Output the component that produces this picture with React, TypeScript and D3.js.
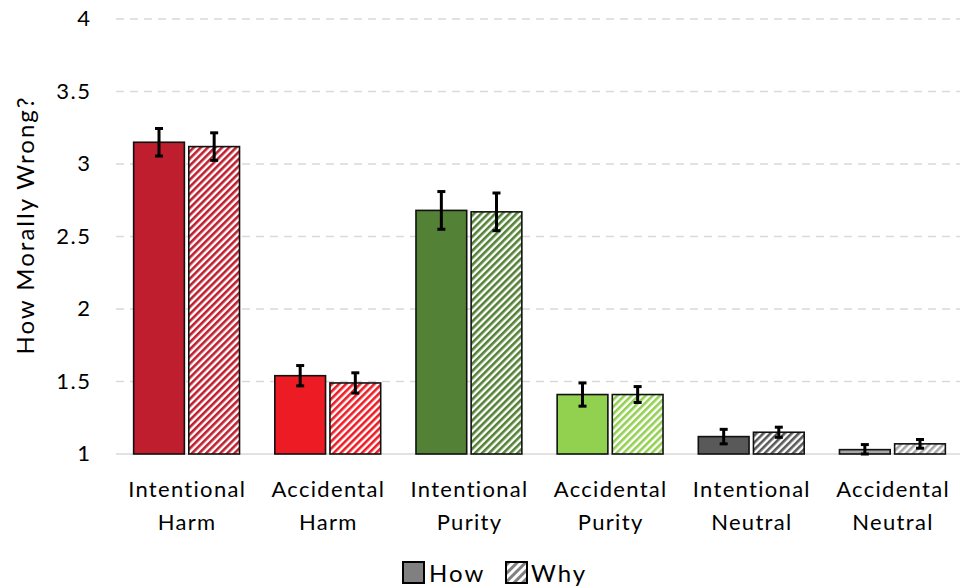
import * as d3 from 'd3';

const categories = ['Intentional Harm', 'Accidental Harm', 'Intentional Purity', 'Accidental Purity', 'Intentional Neutral', 'Accidental Neutral'];
const series = ['How', 'Why'];
const howValues = [3.15, 1.54, 2.68, 1.41, 1.12, 1.03];
const whyValues = [3.12, 1.49, 2.67, 1.41, 1.15, 1.07];
const howErrors = [0.095, 0.07, 0.13, 0.08, 0.05, 0.035];
const whyErrors = [0.095, 0.07, 0.13, 0.055, 0.035, 0.03];
const yTicks = [1, 1.5, 2, 2.5, 3, 3.5, 4];
const colors = ['#BE1E2D', '#ED1C24', '#538135', '#92D050', '#595959', '#A6A6A6'];

const font = 'Lato, "Open Sans", sans-serif';

export default function App() {
    const width = 960;
    const height = 588;
    const x0 = d3.scaleBand<string>().domain(categories).range([116, 963]).paddingInner(0.25).paddingOuter(0.125);
    const x1 = d3.scaleBand<string>().domain(series).range([0, x0.bandwidth()]).paddingInner(0.08);
    const y = d3.scaleLinear().domain([1, 4]).range([454, 19]);

    const rows = categories.map((c, i) => [
        { cat: c, s: 'How', v: howValues[i], e: howErrors[i], i },
        { cat: c, s: 'Why', v: whyValues[i], e: whyErrors[i], i },
    ]).flat();

    return (
        <svg width={width} height={height} style={{ position: 'absolute', left: 0, top: 0, background: '#fff' }} fontFamily={font}>
            <defs>
                {colors.map((c, i) => (
                    <pattern key={i} id={`stripe${i}`} patternUnits="userSpaceOnUse" width={5} height={5} patternTransform="rotate(45)">
                        <rect width={5} height={5} fill="#fff" />
                        <rect width={2.6} height={5} fill={c} />
                    </pattern>
                ))}
                <pattern id="stripeLegend" patternUnits="userSpaceOnUse" width={6} height={6} patternTransform="rotate(45)">
                    <rect width={6} height={6} fill="#fff" />
                    <rect width={3} height={6} fill="#808080" />
                </pattern>
            </defs>

            {/* gridlines */}
            {yTicks.map(t => (
                <line key={t} x1={116} x2={960} y1={y(t)} y2={y(t)}
                    stroke="#d9d9d9" strokeWidth={1.5} strokeDasharray={t === 1 ? undefined : '8 6'} />
            ))}
            {yTicks.map(t => (
                <text key={'l' + t} x={91.5} y={y(t)} dy="0.33em" textAnchor="end" fontSize={22} letterSpacing={1.5} fill="#000">{t}</text>
            ))}
            <text transform={`translate(26,${225}) rotate(-90)`} textAnchor="middle" dy="0.35em" fontSize={24} letterSpacing={2} fill="#000">How Morally Wrong?</text>

            {/* bars */}
            {rows.map((d, k) => {
                const bx = (x0(d.cat) || 0) + (x1(d.s) || 0);
                return (
                    <rect key={k} x={bx} y={y(d.v)} width={x1.bandwidth()} height={y(1) - y(d.v)}
                        fill={d.s === 'How' ? colors[d.i] : `url(#stripe${d.i})`} stroke="#111" strokeWidth={1.6} />
                );
            })}

            {/* error bars */}
            {rows.map((d, k) => {
                const cx = (x0(d.cat) || 0) + (x1(d.s) || 0) + x1.bandwidth() / 2;
                const top = y(d.v + d.e);
                const bot = y(Math.max(1, d.v - d.e));
                return (
                    <g key={'e' + k} stroke="#000" strokeWidth={3}>
                        <line x1={cx} x2={cx} y1={top} y2={bot} />
                        <line x1={cx - 4} x2={cx + 4} y1={top} y2={top} />
                        <line x1={cx - 4} x2={cx + 4} y1={bot} y2={bot} />
                    </g>
                );
            })}

            {/* category labels */}
            {categories.map(c => {
                const [a, b] = c.split(' ');
                const cx = (x0(c) || 0) + x0.bandwidth() / 2 + 0.6;
                return (
                    <text key={c} x={cx} textAnchor="middle" fontSize={22} letterSpacing={1.3} fill="#000">
                        <tspan x={cx} y={497}>{a}</tspan>
                        <tspan x={cx} y={530}>{b}</tspan>
                    </text>
                );
            })}

            {/* legend */}
            <rect x={403} y={562} width={21} height={21} fill="#808080" stroke="#000" strokeWidth={2} />
            <text x={429} y={582} fontSize={24} letterSpacing={2} fill="#000">How</text>
            <rect x={506} y={562} width={21} height={21} fill="url(#stripeLegend)" stroke="#000" strokeWidth={2} />
            <text x={531} y={582} fontSize={24} letterSpacing={2} fill="#000">Why</text>
        </svg>
    );
}
